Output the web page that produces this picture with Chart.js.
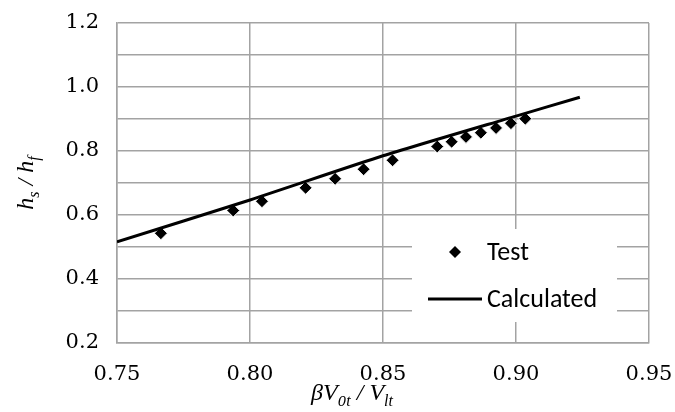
<!DOCTYPE html>
<html><head><meta charset="utf-8">
<script src="https://cdn.jsdelivr.net/npm/chart.js@4/dist/chart.umd.min.js"></script>
<style>html,body{margin:0;padding:0;background:#fff}canvas{display:block}</style>
</head><body>
<canvas id="c" width="675" height="412"></canvas>
<script>
// ---- data ----
const testX = [0.7665,0.7937,0.8045,0.8209,0.8320,0.8427,0.8536,0.8704,0.8758,0.8812,0.8868,0.8925,0.8981,0.9035];
const testY = [0.543,0.614,0.643,0.685,0.713,0.743,0.771,0.814,0.829,0.844,0.857,0.872,0.887,0.901];
const calcX = [0.75,0.80,0.85,0.90,0.924];
const calcY = [0.516,0.647,0.785,0.909,0.968];
const xTickLabels = ['0.75','0.80','0.85','0.90','0.95'];
const yTickLabels = ['0.2','0.4','0.6','0.8','1.0','1.2'];
const seriesNames = ['Test','Calculated'];
// axis titles as [text, isSubscript, useDigitFont] runs
const xTitleRuns = [['\u03B2V',0,0],['0',1,1],['t',1,0],[' / ',0,0],['V',0,0],['lt',1,0]];
const yTitleRuns = [['h',0,0],['s',1,0],[' / ',0,0],['h',0,0],['f',1,0]];

const GRID = '#a3a3a3';
const TICKFONT = 'DejaVu Serif';
const TEXTSERIF = '"Liberation Serif"';
const DIGITSERIF = '"DejaVu Serif"';

Chart.defaults.font.family = TICKFONT;
Chart.defaults.color = '#000';

function drawRuns(ctx, runs, x, y, size, subSize, subDy) {
  const fontOf = r => 'italic ' + (r[1] ? subSize : size) * (r[2] ? 0.85 : 1) + 'px ' + (r[2] ? DIGITSERIF : TEXTSERIF);
  let w = 0;
  const ws = runs.map(r => { ctx.font = fontOf(r); const m = ctx.measureText(r[0]).width; w += m; return m; });
  let cx = x - w / 2;
  runs.forEach((r, i) => {
    ctx.font = fontOf(r);
    ctx.fillText(r[0], cx, y + (r[1] ? subDy : 0));
    cx += ws[i];
  });
}

const bgPlugin = {
  id: 'bg',
  beforeDraw(chart) {
    const ctx = chart.ctx; ctx.save(); ctx.fillStyle = '#fff';
    ctx.fillRect(0, 0, chart.width, chart.height); ctx.restore();
  }
};

const titlePlugin = {
  id: 'richTitles',
  afterDraw(chart) {
    const ctx = chart.ctx, a = chart.chartArea;
    ctx.save();
    ctx.fillStyle = '#000';
    ctx.textBaseline = 'alphabetic';
    ctx.textAlign = 'left';
    drawRuns(ctx, xTitleRuns, (a.left + a.right) / 2 - 31, a.bottom + 57, 24, 16, 6);
    ctx.translate(a.left - 84, (a.top + a.bottom) / 2);
    ctx.rotate(-Math.PI / 2);
    drawRuns(ctx, yTitleRuns, 0, 0, 24, 16, 6);
    ctx.restore();
  }
};

const legendPlugin = {
  id: 'boxLegend',
  afterDraw(chart) {
    const ctx = chart.ctx, a = chart.chartArea;
    const L = a.right - 237, R = a.right - 32, T = a.bottom - 114, B = a.bottom - 21;
    ctx.save();
    ctx.fillStyle = '#fff';
    ctx.fillRect(L, T, R - L, B - T);
    const row1 = T + 23, row2 = T + 70, textX = L + 75;
    const mx = L + 43, r = 6;
    ctx.fillStyle = '#000';
    ctx.beginPath();
    ctx.moveTo(mx, row1 - r); ctx.lineTo(mx + r, row1); ctx.lineTo(mx, row1 + r); ctx.lineTo(mx - r, row1);
    ctx.closePath(); ctx.fill();
    ctx.strokeStyle = '#000'; ctx.lineWidth = 3;
    ctx.beginPath(); ctx.moveTo(L + 16, row2); ctx.lineTo(L + 70, row2); ctx.stroke();
    ctx.font = '26px Carlito, Lato, sans-serif';
    ctx.textBaseline = 'middle'; ctx.textAlign = 'left';
    ctx.fillText(seriesNames[0], textX, row1 + 1);
    ctx.fillText(seriesNames[1], textX, row2 + 1);
    ctx.restore();
  }
};

new Chart(document.getElementById('c'), {
  type: 'scatter',
  data: {
    datasets: [
      {
        label: seriesNames[0],
        data: testX.map((x, i) => ({x, y: testY[i]})),
        pointStyle: 'rectRot',
        pointRadius: 6.5,
        pointBackgroundColor: '#000',
        pointBorderColor: '#fff',
        pointBorderWidth: 1,
        showLine: false,
        order: 2
      },
      {
        label: seriesNames[1],
        data: calcX.map((x, i) => ({x, y: calcY[i]})),
        showLine: true,
        borderColor: '#000',
        borderWidth: 3,
        pointRadius: 0,
        tension: 0.2,
        order: 1
      }
    ]
  },
  options: {
    responsive: false,
    animation: false,
    devicePixelRatio: 1,
    layout: { padding: { left: 0, right: 26, top: 23, bottom: 0 } },
    plugins: { legend: { display: false }, tooltip: { enabled: false } },
    scales: {
      x: {
        type: 'linear', min: 0.75, max: 0.95,
        afterFit(s) { s.height = 69; s.paddingLeft = 0; s.paddingRight = 0; },
        ticks: {
          stepSize: 0.05, padding: 19, color: '#000',
          font: { family: TICKFONT, size: 21 },
          callback(v) { const t = v.toFixed(2); return xTickLabels.includes(t) ? t : ''; }
        },
        grid: { color: GRID, lineWidth: 1.5, drawTicks: false },
        border: { color: GRID, width: 1.5 }
      },
      y: {
        type: 'linear', min: 0.2, max: 1.2,
        afterFit(s) { s.width = 117; s.paddingTop = 0; s.paddingBottom = 0; },
        ticks: {
          stepSize: 0.1, padding: 18, color: '#000',
          font: { family: TICKFONT, size: 21 },
          callback(v) { const t = v.toFixed(1); return yTickLabels.includes(t) ? t : ''; }
        },
        grid: { color: GRID, lineWidth: 1.5, drawTicks: false },
        border: { color: GRID, width: 1.5 }
      }
    }
  },
  plugins: [bgPlugin, titlePlugin, legendPlugin]
});
</script>
</body></html>
